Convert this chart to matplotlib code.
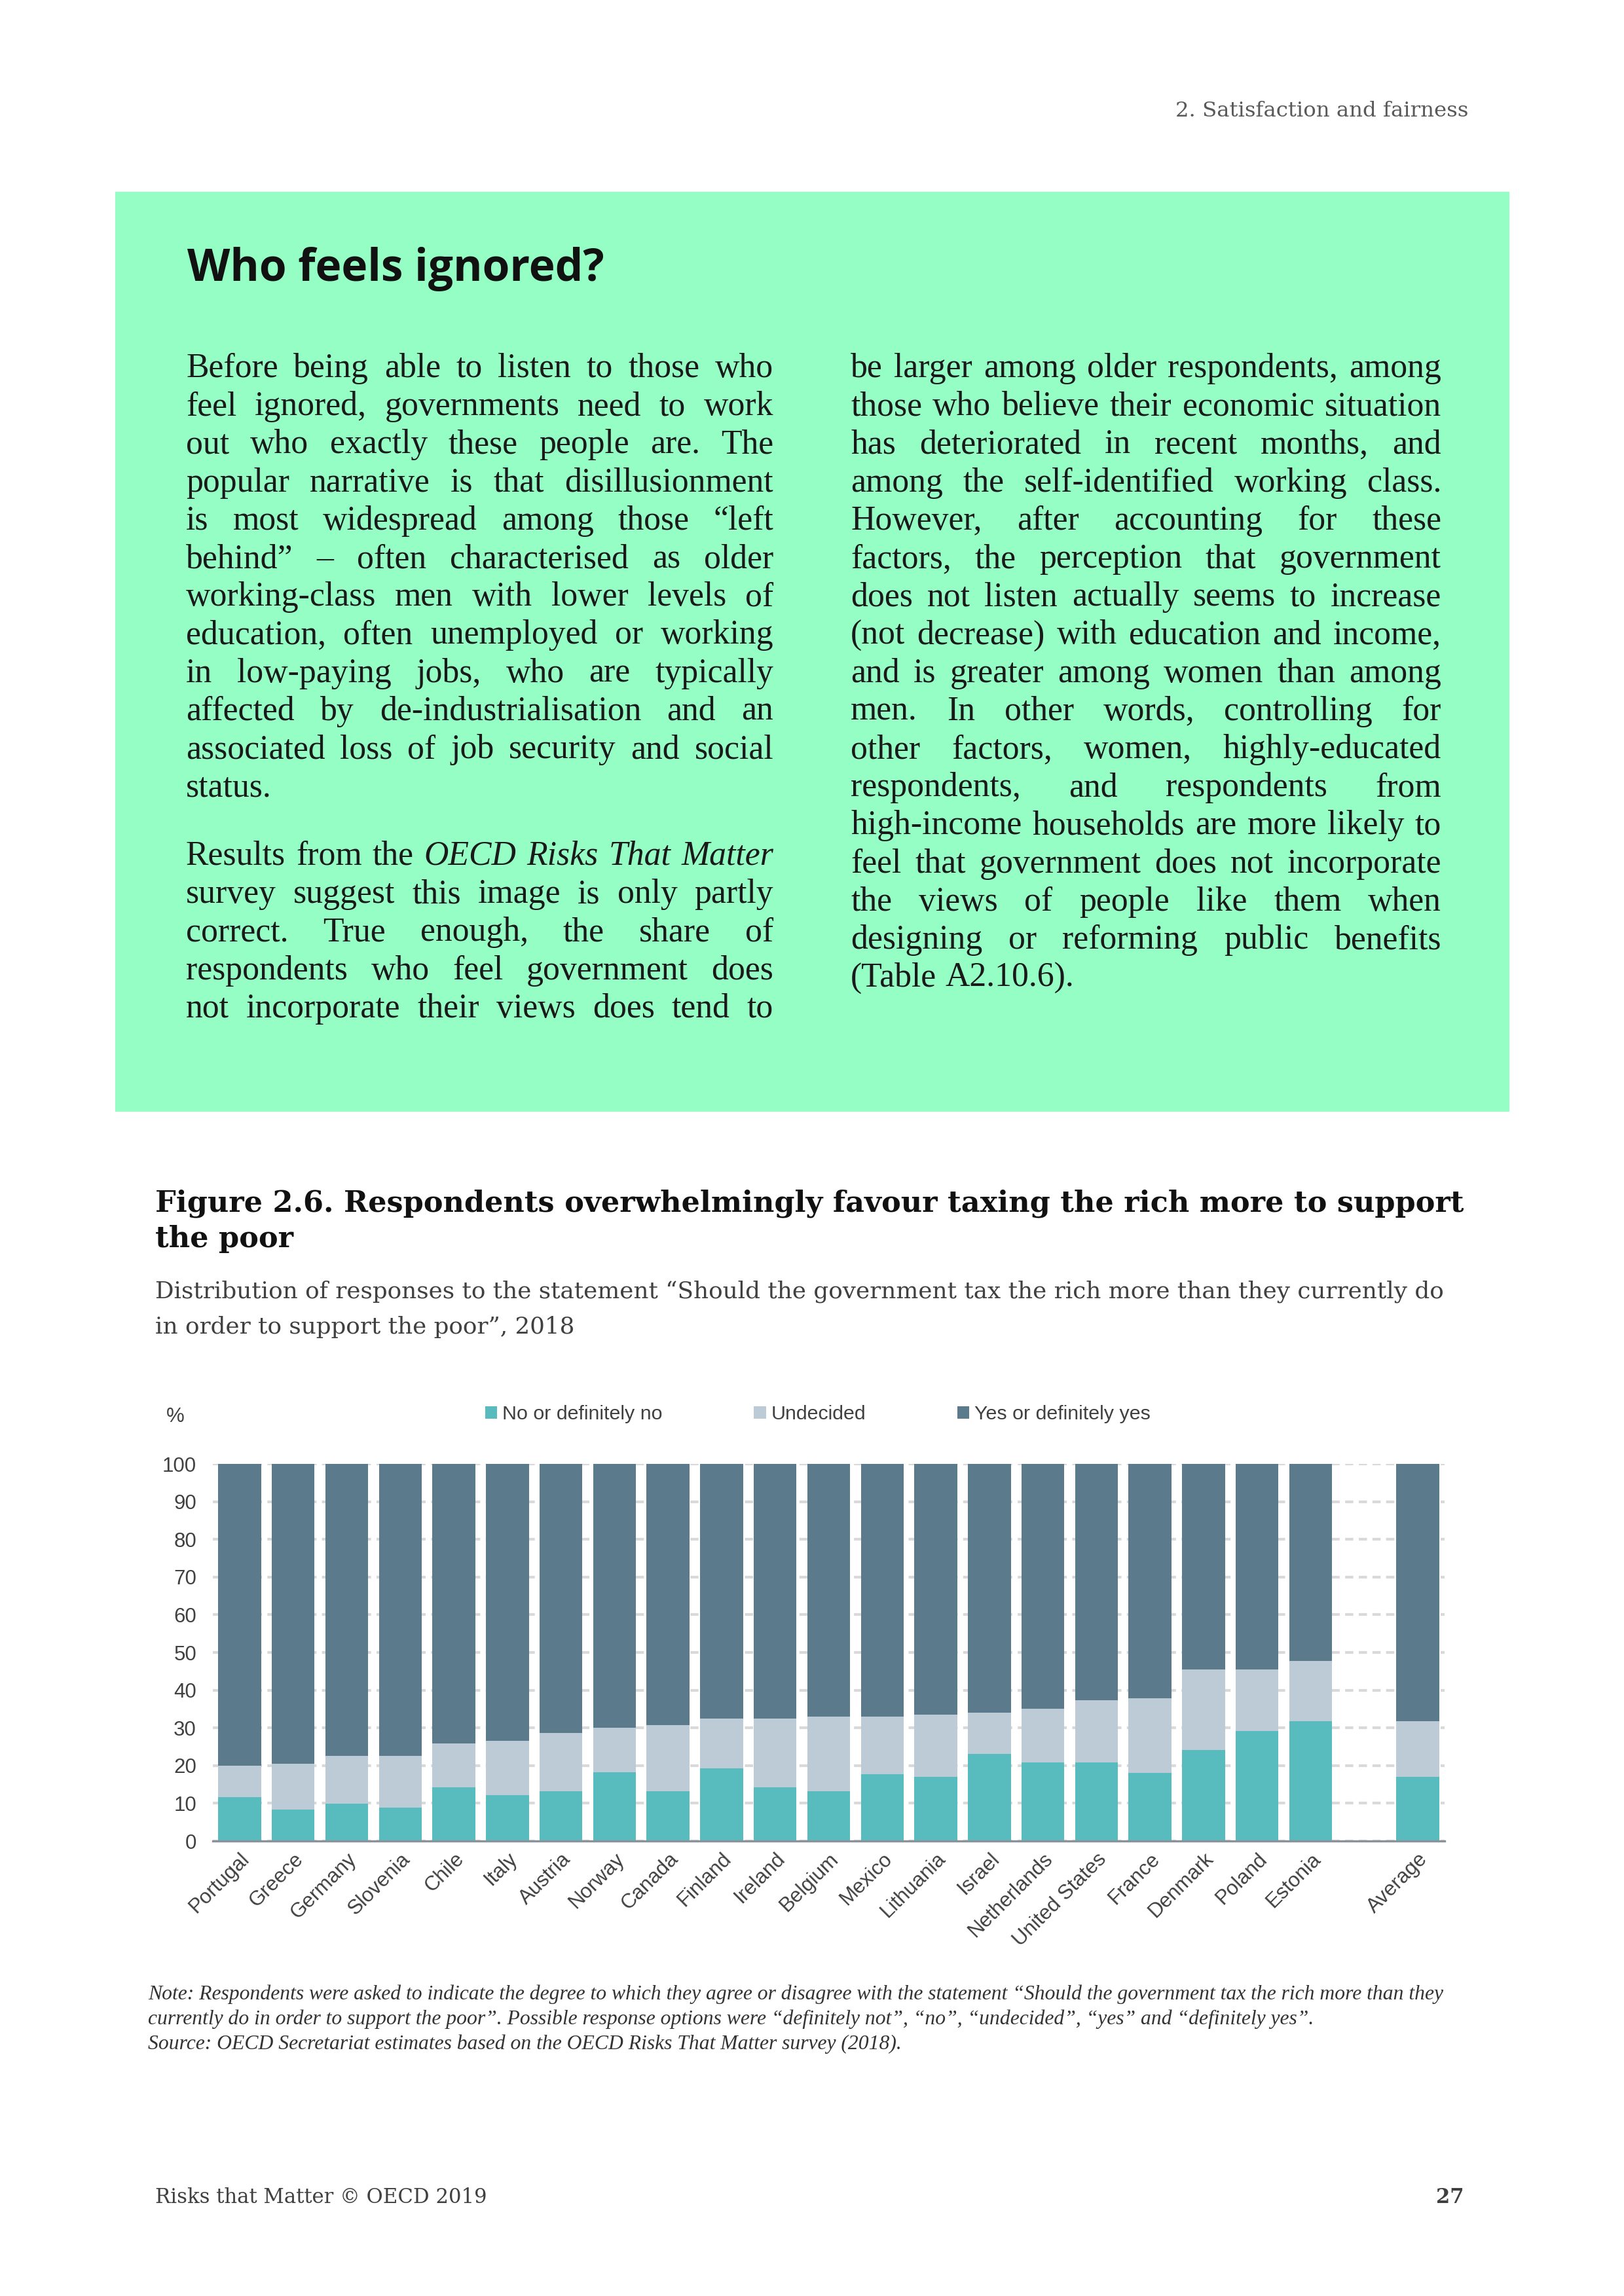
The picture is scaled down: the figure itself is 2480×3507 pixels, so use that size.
import matplotlib
matplotlib.use('Agg')
import matplotlib.pyplot as plt
import numpy as np

# ---- data (%) ----
countries = ['Portugal', 'Greece', 'Germany', 'Slovenia', 'Chile', 'Italy', 'Austria',
             'Norway', 'Canada', 'Finland', 'Ireland', 'Belgium', 'Mexico', 'Lithuania',
             'Israel', 'Netherlands', 'United States', 'France', 'Denmark', 'Poland',
             'Estonia', 'Average']
no_vals = [11.7, 8.4, 9.9, 8.8, 14.3, 12.2, 13.2, 18.2, 13.2, 19.3, 14.3,
           13.2, 17.7, 17.0, 23.1, 20.8, 20.8, 18.1, 24.1, 29.1, 31.8, 17.0]
undecided_vals = [8.2, 12.0, 12.7, 13.8, 11.6, 14.3, 15.4, 11.9, 17.5, 13.1, 18.1,
                  19.8, 15.3, 16.5, 10.9, 14.3, 16.5, 19.8, 21.4, 16.4, 15.9, 14.8]
yes_vals = [80.1, 79.6, 77.4, 77.4, 74.1, 73.5, 71.4, 69.9, 69.3, 67.6, 67.6,
            67.0, 67.0, 66.5, 66.0, 64.9, 62.7, 62.1, 54.5, 54.5, 52.3, 68.2]
series_names = ['No or definitely no', 'Undecided', 'Yes or definitely yes']
series_colors = ['#58bbbe', '#bccbd5', '#5b7b8c']

# page texts
left_col = [
    ("Before being able to listen to those who", True),
    ("feel ignored, governments need to work", True),
    ("out who exactly these people are. The", True),
    ("popular narrative is that disillusionment", True),
    ("is most widespread among those \u201cleft", True),
    ("behind\u201d \u2013 often characterised as older", True),
    ("working-class men with lower levels of", True),
    ("education, often unemployed or working", True),
    ("in low-paying jobs, who are typically", True),
    ("affected by de-industrialisation and an", True),
    ("associated loss of job security and social", True),
    ("status.", False),
    (None, False),
    ("Results from the _OECD _Risks _That _Matter", True),
    ("survey suggest this image is only partly", True),
    ("correct.  True enough, the share of", True),
    ("respondents who feel government does", True),
    ("not incorporate their views does tend to", True),
]
right_col = [
    ("be larger among older respondents, among", True),
    ("those who believe their economic situation", True),
    ("has deteriorated in recent months, and", True),
    ("among the self-identified working class.", True),
    ("However, after accounting for these", True),
    ("factors, the perception that government", True),
    ("does not listen actually seems to increase", True),
    ("(not decrease) with education and income,", True),
    ("and is greater among women than among", True),
    ("men.  In other words, controlling for", True),
    ("other factors, women, highly-educated", True),
    ("respondents, and respondents from", True),
    ("high-income households are more likely to", True),
    ("feel that government does not incorporate", True),
    ("the views of people like them when", True),
    ("designing or reforming public benefits", True),
    ("(Table A2.10.6).", False),
]
fig_title = ["Figure 2.6. Respondents overwhelmingly favour taxing the rich more to support",
             "the poor"]
fig_sub = ["Distribution of responses to the statement \u201cShould the government tax the rich more than they currently do",
           "in order to support the poor\u201d, 2018"]
notes = ["Note: Respondents were asked to indicate the degree to which they agree or disagree with the statement \u201cShould the government tax the rich more than they",
         "currently do in order to support the poor\u201d. Possible response options were \u201cdefinitely not\u201d, \u201cno\u201d, \u201cundecided\u201d, \u201cyes\u201d and \u201cdefinitely yes\u201d.",
         "Source: OECD Secretariat estimates based on the OECD Risks That Matter survey (2018)."]

# ---- page ----
W, H = 2480, 3507
DPI = 300
fig = plt.figure(figsize=(W / DPI, H / DPI), dpi=DPI)
renderer = fig.canvas.get_renderer()

SERIF = ['DejaVu Serif']
BODY = ['Liberation Serif', 'DejaVu Serif']
SANS = ['Liberation Sans', 'DejaVu Sans']


def fx(x):
    return x / W


def fy(y):
    return 1 - y / H


def width_of(s, **kw):
    t = fig.text(0, 0, s, **kw)
    w = t.get_window_extent(renderer).width
    t.remove()
    return w


def fit_size(s, target, size=10, **kw):
    return size * target / width_of(s, fontsize=size, **kw)


def put(x, y, s, **kw):
    return fig.text(fx(x), fy(y), s, va='baseline', **kw)


def justify_col(lines, x0, x1, y0, step, size, color='#1a1a1a', family=BODY):
    y = y0
    for line, just in lines:
        if line is None:
            y += step * 0.8
            continue
        words = line.split()
        styles = ['italic' if w.startswith('_') else 'normal' for w in words]
        words = [w.lstrip('_') for w in words]
        ws = [width_of(w, fontsize=size, family=family, fontstyle=st) for w, st in zip(words, styles)]
        space = width_of('x x', fontsize=size, family=family) - width_of('xx', fontsize=size, family=family)
        gap = (x1 - x0 - sum(ws)) / (len(words) - 1) if (just and len(words) > 1) else space
        x = x0
        for w, st, wd in zip(words, styles, ws):
            put(x, y, w, fontsize=size, family=family, fontstyle=st, color=color)
            x += wd + gap
        y += step


# header
hs = fit_size("2. Satisfaction and fairness", 449, family=SERIF)
put(2242, 178, "2. Satisfaction and fairness", fontsize=hs, family=SERIF, color='#595959', ha='right')

# green box
fig.patches.append(plt.Rectangle((fx(178), fy(1696)), (2303 - 178) / W, (1696 - 295) / H,
                                 transform=fig.transFigure, color='#94fec5', zorder=0))
ts = fit_size("Who feels ignored?", 637, family=['Open Sans', 'DejaVu Sans'], fontweight='bold')
put(286, 429, "Who feels ignored?", fontsize=ts, family=['Open Sans', 'DejaVu Sans'],
    fontweight='bold', color='#111111')

# body font size: widest natural line must fit in the column
col_w = 1181 - 284
nat = []
for line, just in left_col + right_col:
    if line:
        nat.append(width_of(line.replace('_', ''), fontsize=10, family=BODY))
body_size = min(10 * col_w / max(nat) * 0.99, 12.6)
justify_col(left_col, 284, 1181, 576, 58.2, body_size)
justify_col(right_col, 1299, 2201, 576, 58.2, body_size)

# figure title and subtitle
fs = fit_size(fig_title[0], 1999, family=SERIF, fontweight='bold')
put(237, 1851, fig_title[0], fontsize=fs, family=SERIF, fontweight='bold', color='#111111')
put(237, 1905, fig_title[1], fontsize=fs, family=SERIF, fontweight='bold', color='#111111')
ss = fit_size(fig_sub[0], 1970, family=SERIF)
put(237, 1983, fig_sub[0], fontsize=ss, family=SERIF, color='#404040')
put(237, 2037, fig_sub[1], fontsize=ss, family=SERIF, color='#404040')

# ---- chart ----
ax = fig.add_axes([fx(325), fy(2812), (2206 - 325) / W, (2812 - 2236) / H])
pos = np.array(list(range(len(countries) - 1)) + [len(countries)])
bottom = np.zeros(len(countries))
bars = []
for vals, name, col in zip([no_vals, undecided_vals, yes_vals], series_names, series_colors):
    b = ax.bar(pos, vals, width=0.8, bottom=bottom, color=col, label=name, zorder=3)
    bars.append(b)
    bottom = bottom + np.array(vals)

ax.set_xlim(-0.5, pos[-1] + 0.5)
ax.set_ylim(0, 100)
ax.set_yticks(range(0, 101, 10))
ax.yaxis.grid(True, color='#d9d9d9', linestyle=(0, (3, 2)), linewidth=1.0, zorder=0)
ax.set_axisbelow(True)
for s in ['top', 'right', 'left']:
    ax.spines[s].set_visible(False)
ax.spines['bottom'].set_color('#8a929c')
ax.spines['bottom'].set_linewidth(0.8)
ax.spines['bottom'].set_zorder(4)
ax.tick_params(axis='both', length=0, labelsize=7.5, labelcolor='#404040')
ax.tick_params(axis='y', pad=6)
ax.tick_params(axis='x', pad=3)
ax.set_xticks(pos)
ax.set_xticklabels(countries, rotation=45, ha='right', va='top', rotation_mode='anchor',
                   fontsize=7.5, family=SANS)
for lab in ax.get_yticklabels():
    lab.set_family(SANS)

put(254, 2172, "%", fontsize=7.5, family=SANS, color='#404040')
leg = ax.legend(handles=bars, loc='center left', bbox_to_anchor=(fx(726), fy(2160)),
                bbox_transform=fig.transFigure, ncol=3, frameon=False,
                handlelength=0.6, handleheight=0.6, handletextpad=0.25,
                columnspacing=4.6, borderpad=0, prop={'family': SANS, 'size': 7.3})
for t in leg.get_texts():
    t.set_color('#404040')

# notes and footer
ns = fit_size(notes[0], 1985, family=BODY, fontstyle='italic')
for i, line in enumerate(notes):
    put(226, 3054 + i * 38, line, fontsize=ns, family=BODY, fontstyle='italic', color='#333333')

fs2 = fit_size("Risks that Matter \u00a9 OECD 2019", 508, family=SERIF)
put(237, 3365, "Risks that Matter \u00a9 OECD 2019", fontsize=fs2, family=SERIF, color='#404040')
put(2236, 3365, "27", fontsize=fs2, family=SERIF, fontweight='bold', color='#404040', ha='right')

fig.savefig('out.png', dpi=DPI)
